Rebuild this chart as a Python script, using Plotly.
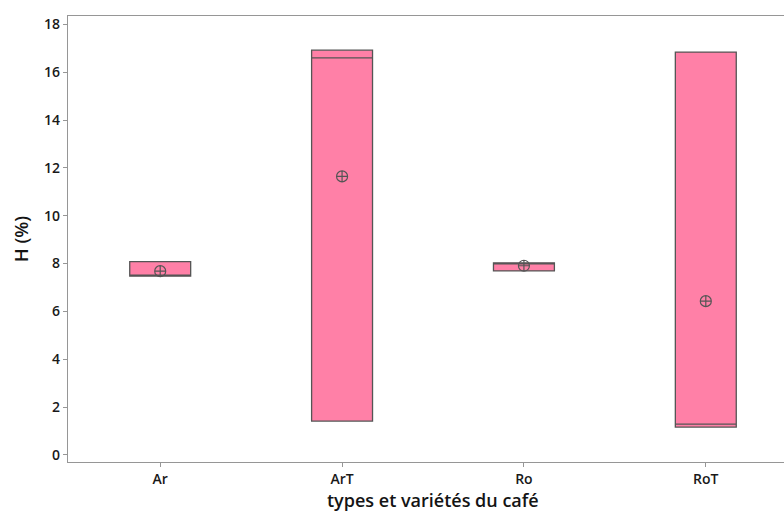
import plotly.graph_objects as go

# Coffee moisture content H (%) for each type / variety (3 measurements each)
categories = ["Ar", "ArT", "Ro", "RoT"]
h_ar = [7.47, 7.49, 8.08]
h_art = [1.41, 16.60, 16.92]
h_ro = [7.69, 8.00, 8.03]
h_rot = [1.16, 1.28, 16.84]
y_ticks = [0, 2, 4, 6, 8, 10, 12, 14, 16, 18]

series = [h_ar, h_art, h_ro, h_rot]

BOX_FILL = "rgb(255,128,167)"
EDGE = "rgb(85,85,85)"
AXIS = "rgb(150,150,150)"
FONT = "Open Sans"

fig = go.Figure()

for cat, vals in zip(categories, series):
    fig.add_trace(go.Box(
        x=[cat] * len(vals),
        y=vals,
        quartilemethod="exclusive",
        boxpoints=False,
        fillcolor=BOX_FILL,
        line=dict(color=EDGE, width=1.3),
        whiskerwidth=0,
        width=0.335,
        showlegend=False,
        hoverinfo="skip",
    ))

means = [sum(v) / len(v) for v in series]
fig.add_trace(go.Scatter(
    x=categories,
    y=means,
    mode="markers",
    marker=dict(symbol="circle-cross-open", size=11,
                color=EDGE, line=dict(width=1.2, color=EDGE)),
    showlegend=False,
    hoverinfo="skip",
))

fig.add_annotation(
    x=1.5, xref="x", y=-0.057, yref="paper", yanchor="top",
    text="types et variétés du café", showarrow=False, borderpad=0,
    font=dict(family=FONT, size=18, color="rgb(20,20,20)", weight=600),
)

fig.update_layout(
    width=784, height=515,
    margin=dict(l=68, r=0, t=16, b=53),
    paper_bgcolor="white",
    plot_bgcolor="white",
    font=dict(family=FONT, size=13, color="rgb(25,25,25)"),
    xaxis=dict(
        type="category",
        categoryorder="array", categoryarray=categories,
        range=[-0.507, 3.43],
        showline=True, linecolor=AXIS, linewidth=1.3, mirror=True,
        ticks="outside", ticklen=4, tickcolor=AXIS, tickwidth=1,
        showgrid=False, zeroline=False,
        tickfont=dict(family=FONT, size=14, color="rgb(25,25,25)", weight=600),
    ),
    yaxis=dict(
        range=[-0.30, 18.35],
        tickvals=y_ticks,
        showline=True, linecolor=AXIS, linewidth=1.3,
        ticks="outside", ticklen=4, tickcolor=AXIS, tickwidth=1,
        showgrid=False, zeroline=False,
        tickfont=dict(family=FONT, size=14, color="rgb(25,25,25)", weight=600),
        title=dict(text="H (%)", standoff=10,
                   font=dict(family=FONT, size=18.5, color="rgb(20,20,20)", weight=600)),
    ),
)

fig.write_html("out.html")
